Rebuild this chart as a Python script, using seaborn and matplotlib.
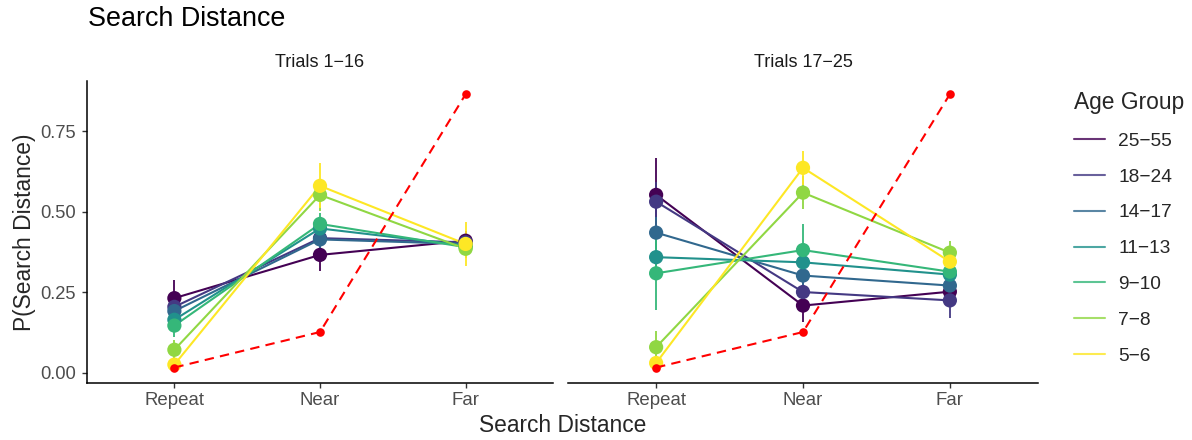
import numpy as np
import pandas as pd
import matplotlib
matplotlib.use("Agg")
import matplotlib.pyplot as plt
from matplotlib.lines import Line2D
import seaborn as sns

# ---------------- data ----------------
distances = ["Repeat", "Near", "Far"]
age_groups = ["25\u221255", "18\u221224", "14\u221217", "11\u221213", "9\u221210", "7\u22128", "5\u22126"]
panels = ["Trials 1\u221216", "Trials 17\u221225"]

# mean P(search distance) per age group at [Repeat, Near, Far]
early_mean = [
    [0.232, 0.366, 0.410],
    [0.205, 0.418, 0.405],
    [0.192, 0.414, 0.400],
    [0.165, 0.448, 0.395],
    [0.147, 0.462, 0.390],
    [0.072, 0.552, 0.385],
    [0.026, 0.580, 0.400],
]
early_se = [
    [0.055, 0.050, 0.030],
    [0.040, 0.030, 0.030],
    [0.040, 0.030, 0.030],
    [0.035, 0.035, 0.030],
    [0.035, 0.035, 0.030],
    [0.030, 0.050, 0.030],
    [0.015, 0.070, 0.067],
]
late_mean = [
    [0.552, 0.209, 0.252],
    [0.531, 0.251, 0.225],
    [0.435, 0.302, 0.271],
    [0.359, 0.343, 0.305],
    [0.309, 0.381, 0.314],
    [0.080, 0.559, 0.373],
    [0.031, 0.636, 0.345],
]
late_se = [
    [0.113, 0.050, 0.030],
    [0.060, 0.040, 0.055],
    [0.050, 0.040, 0.030],
    [0.050, 0.040, 0.030],
    [0.113, 0.080, 0.030],
    [0.050, 0.052, 0.035],
    [0.020, 0.053, 0.030],
]
random_p = [0.017, 0.127, 0.864]

# --------------- long table ---------------
rows = []
for panel, means, ses in [(panels[0], early_mean, early_se), (panels[1], late_mean, late_se)]:
    for g, m_row, s_row in zip(age_groups, means, ses):
        for d, m, s in zip(distances, m_row, s_row):
            rows.append(dict(panel=panel, age=g, dist=d, p=m, se=s))
df = pd.DataFrame(rows)
rand_df = pd.DataFrame(dict(dist=distances, p=random_p))

# --------------- style ---------------
sns.set_theme(style="white")
plt.rcParams["font.family"] = ["Liberation Sans", "DejaVu Sans"]

cmap = sns.color_palette("viridis", as_cmap=True)
colors = [cmap(v) for v in np.linspace(0, 1, len(age_groups))]
palette = dict(zip(age_groups, colors))

W, H = 1192, 440
fig = plt.figure(figsize=(W / 100, H / 100), dpi=100)

def fx(px):
    return px / W

def fy(py):
    return 1 - py / H

top, bottom = 81, 383
ax_l = fig.add_axes([fx(87), fy(bottom), fx(553 - 87), (bottom - top) / H])
ax_r = fig.add_axes([fx(568), fy(bottom), fx(1038 - 568), (bottom - top) / H])

tick_col = "#4D4D4D"
for ax, panel in zip([ax_l, ax_r], panels):
    sub = df[df.panel == panel]
    # error bars
    for g in age_groups:
        s = sub[sub.age == g]
        ax.vlines(s["dist"], s["p"] - s["se"], s["p"] + s["se"], color=palette[g], lw=1.3, zorder=2)
    sns.lineplot(data=sub, x="dist", y="p", hue="age", hue_order=age_groups, palette=palette,
                 estimator=None, sort=False, lw=1.5, legend=False, ax=ax, zorder=3)
    sns.scatterplot(data=sub, x="dist", y="p", hue="age", hue_order=age_groups, palette=palette,
                    s=105, linewidth=0, legend=False, ax=ax, zorder=4)
    sns.lineplot(data=rand_df, x="dist", y="p", color="#FF0000", lw=1.5, ls=(0, (4.5, 3)),
                 marker="o", markersize=6.2, markeredgewidth=0, sort=False, ax=ax, zorder=5)
    ax.set_xlim(-0.6, 2.6)
    ax.set_ylim(-0.031, 0.905)
    ax.set_xlabel("")
    ax.set_ylabel("")
    ax.set_title(panel, fontsize=13, color="#1A1A1A", pad=10)
    for sp in ["top", "right"]:
        ax.spines[sp].set_visible(False)
    ax.spines["bottom"].set_color("black")
    ax.spines["bottom"].set_linewidth(1.1)
    ax.tick_params(axis="x", length=3.5, width=1.0, color="#333333", labelsize=13.4,
                   labelcolor=tick_col, pad=3, bottom=True)
    ax.set_yticks([0, 0.25, 0.5, 0.75])
    ax.set_yticklabels(["0.00", "0.25", "0.50", "0.75"])

ax_l.spines["left"].set_color("black")
ax_l.spines["left"].set_linewidth(1.1)
ax_l.tick_params(axis="y", length=3.5, width=1.0, color="#333333", labelsize=13.2,
                 labelcolor=tick_col, pad=4.5, left=True)
ax_r.spines["left"].set_visible(False)
ax_r.tick_params(axis="y", left=False, labelleft=False)

fig.text(fx(88), fy(18.5), "Search Distance", fontsize=19.4, ha="left", va="center", color="black")
fig.text(fx(562.5), fy(425), "Search Distance", fontsize=16.4, ha="center", va="center")
fig.text(fx(25), fy(232), "P(Search Distance)", fontsize=16.4, ha="center", va="center", rotation=90)

handles = [Line2D([0], [0], color=palette[g], lw=1.5, alpha=0.8) for g in age_groups]
fig.legend(handles, age_groups, title="Age Group", loc="upper left",
           bbox_to_anchor=(fx(1074), fy(91)), frameon=False, fontsize=13.8,
           title_fontsize=16.4, handlelength=1.6, handletextpad=0.7, labelspacing=0.96,
           borderpad=0, borderaxespad=0, alignment="left")

fig.savefig("out.png", dpi=100)
